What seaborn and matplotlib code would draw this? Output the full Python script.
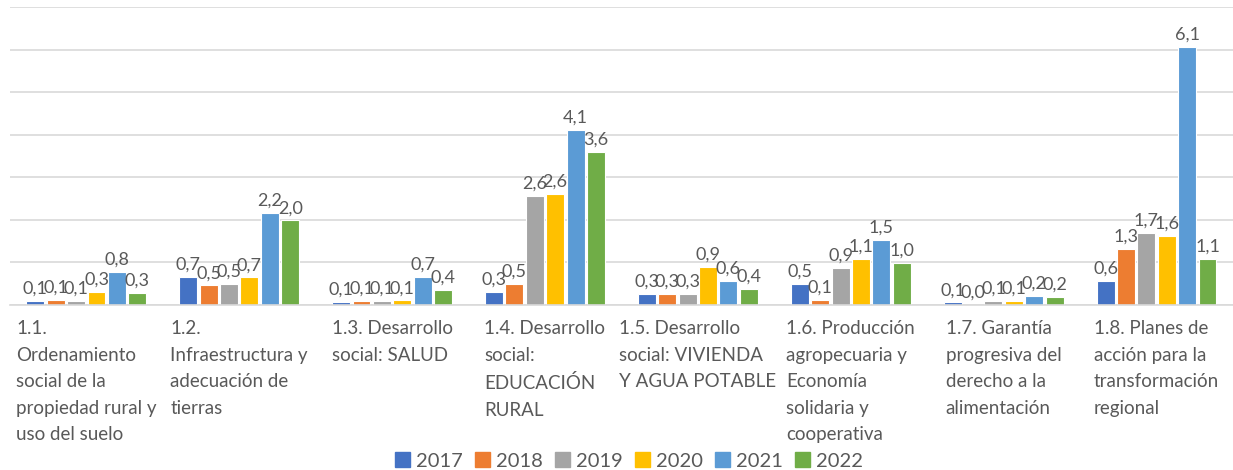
import matplotlib
matplotlib.use("Agg")
import matplotlib.pyplot as plt
import numpy as np
import pandas as pd
import seaborn as sns

categories = [
    "1.1.\nOrdenamiento\nsocial de la\npropiedad rural y\nuso del suelo",
    "1.2.\nInfraestructura y\nadecuación de\ntierras",
    "1.3. Desarrollo\nsocial: SALUD",
    "1.4. Desarrollo\nsocial:\nEDUCACIÓN\nRURAL",
    "1.5. Desarrollo\nsocial: VIVIENDA\nY AGUA POTABLE",
    "1.6. Producción\nagropecuaria y\nEconomía\nsolidaria y\ncooperativa",
    "1.7. Garantía\nprogresiva del\nderecho a la\nalimentación",
    "1.8. Planes de\nacción para la\ntransformación\nregional",
]
years = ["2017", "2018", "2019", "2020", "2021", "2022"]

v2017 = [0.10, 0.67, 0.08, 0.31, 0.26, 0.49, 0.06, 0.56]
v2018 = [0.12, 0.46, 0.09, 0.50, 0.26, 0.12, 0.00, 1.32]
v2019 = [0.09, 0.49, 0.10, 2.56, 0.27, 0.87, 0.09, 1.69]
v2020 = [0.30, 0.65, 0.11, 2.61, 0.90, 1.08, 0.10, 1.62]
v2021 = [0.77, 2.16, 0.66, 4.11, 0.56, 1.53, 0.22, 6.07]
v2022 = [0.28, 1.99, 0.36, 3.59, 0.38, 0.99, 0.19, 1.09]

colors = ["#4472C4", "#ED7D31", "#A5A5A5", "#FFC000", "#5B9BD5", "#70AD47"]

series = [v2017, v2018, v2019, v2020, v2021, v2022]
rows = []
for year, vals in zip(years, series):
    for cat, v in zip(categories, vals):
        rows.append({"cat": cat, "year": year, "value": v})
df = pd.DataFrame(rows)

sns.set_style("white")
plt.rcParams["font.family"] = ["Lato", "DejaVu Sans"]
text_color = "#595959"

fig = plt.figure(figsize=(12.33, 4.7), dpi=100)
ax = fig.add_axes([0.008, 0.351, 0.992, 0.634])

sns.barplot(data=df, x="cat", y="value", hue="year", hue_order=years,
            palette=colors, saturation=1, width=0.8, gap=0.12,
            edgecolor="white", linewidth=0.8, ax=ax, legend=False)

for cont, vals in zip(ax.containers, series):
    labels = [f"{v:.1f}".replace(".", ",") for v in vals]
    ax.bar_label(cont, labels=labels, padding=3, fontsize=13, color=text_color)

ax.set_ylim(0, 7)
ax.set_xlim(-0.5, len(categories) - 0.5)
ax.set_yticks(np.arange(0, 8, 1))
ax.set_yticklabels([])
ax.tick_params(axis="y", length=0)
ax.tick_params(axis="x", length=0, pad=11)
ax.yaxis.grid(True, color="#d9d9d9", linewidth=1.2)
ax.set_axisbelow(True)
ax.set_xlabel("")
ax.set_ylabel("")
for s in ["top", "right", "left"]:
    ax.spines[s].set_visible(False)
ax.spines["bottom"].set_color("#d9d9d9")
ax.spines["bottom"].set_linewidth(1.2)

ax.set_xticks(range(len(categories)))
ax.set_xticklabels(categories, ha="center", ma="left", va="top",
                   fontsize=13.5, color=text_color, linespacing=1.68)

handles = [plt.Rectangle((0, 0), 1, 1, color=c) for c in colors]
fig.legend(handles, years, loc="center", bbox_to_anchor=(0.51, 1 - 461 / 470),
           ncol=6, frameon=False, fontsize=14.5, handlelength=0.75,
           handleheight=0.75, handletextpad=0.3, columnspacing=0.6,
           labelcolor=text_color)

fig.savefig("out.png", dpi=100)
